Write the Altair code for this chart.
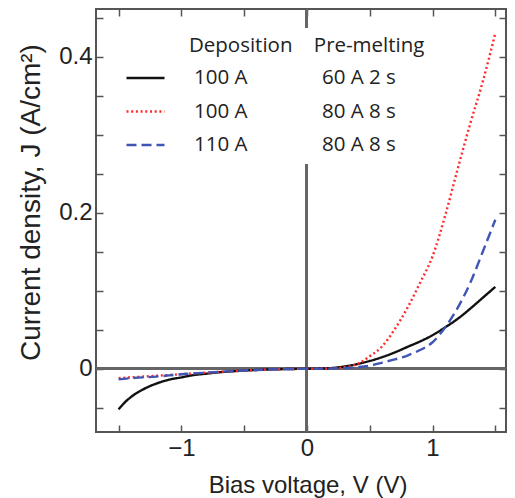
import altair as alt
import pandas as pd

# ---- data ----
series_names = ["100 A / 60 A 2 s", "100 A / 80 A 8 s", "110 A / 80 A 8 s"]
series_colors = ["#111111", "#ff2a2a", "#3f55b5"]
series_dashes = [[1, 0], [2, 2.7], [10, 5]]

v_black = [-1.5, -1.45, -1.4, -1.3, -1.2, -1.1, -1.0, -0.9, -0.8, -0.7, -0.6, -0.5, -0.4, -0.3, -0.2, -0.1,
           0.0, 0.1, 0.2, 0.3, 0.4, 0.5, 0.6, 0.7, 0.8, 0.9, 1.0, 1.1, 1.2, 1.3, 1.4, 1.5]
j_black = [-0.052, -0.043, -0.036, -0.026, -0.019, -0.014, -0.011, -0.008, -0.0062, -0.0045, -0.0033, -0.0023,
           -0.0015, -0.0009, -0.0005, -0.0002,
           0.0, 0.0003, 0.001, 0.003, 0.006, 0.010, 0.015, 0.021, 0.028, 0.035, 0.043, 0.053, 0.064, 0.077,
           0.091, 0.105]

v_red = [-1.5, -1.4, -1.2, -1.0, -0.8, -0.6, -0.4, -0.2, 0.0, 0.1, 0.2, 0.3, 0.4, 0.5, 0.6, 0.7, 0.8, 0.9,
         1.0, 1.1, 1.2, 1.3, 1.4, 1.5]
j_red = [-0.012, -0.011, -0.009, -0.007, -0.005, -0.003, -0.0015, -0.0005, 0.0, 0.0002, 0.0006, 0.002, 0.006,
         0.016, 0.029, 0.051, 0.078, 0.110, 0.144, 0.196, 0.256, 0.314, 0.368, 0.43]

v_blue = [-1.5, -1.4, -1.2, -1.0, -0.8, -0.6, -0.4, -0.2, 0.0, 0.2, 0.4, 0.5, 0.6, 0.7, 0.8, 0.9, 1.0, 1.1,
          1.2, 1.3, 1.4, 1.5]
j_blue = [-0.0135, -0.012, -0.010, -0.007, -0.005, -0.003, -0.0015, -0.0005, 0.0, 0.0003, 0.002, 0.004,
          0.008, 0.012, 0.017, 0.024, 0.034, 0.053, 0.078, 0.110, 0.150, 0.191]

x_ticks = [-1.5, -1.0, -0.5, 0.0, 0.5, 1.0, 1.5]
x_labels = [-1, 0, 1]
y_ticks = [-0.05, 0.0, 0.05, 0.1, 0.15, 0.2, 0.25, 0.3, 0.35, 0.4, 0.45]
y_labels = [0, 0.2, 0.4]

x_domain = [-1.68, 1.585]
y_domain = [-0.081, 0.461]

rows = []
for name, vs, js in zip(series_names, [v_black, v_red, v_blue], [j_black, j_red, j_blue]):
    for v, j in zip(vs, js):
        rows.append({"series": name, "V": v, "J": j})
df = pd.DataFrame(rows)

W, H = 410, 423
NB = "\u00a0"
ZW = "\u200b"
AX_FONT = "Liberation Sans"
LG_FONT = "Open Sans"
TXT = "#222222"
TICK = "#555555"

xs = alt.Scale(domain=x_domain, nice=False, zero=False)
ys = alt.Scale(domain=y_domain, nice=False, zero=False)

legend = alt.Legend(
    orient="none", legendX=21, legendY=19,
    title=ZW + NB * 12 + "Deposition" + NB * 4 + "Pre-melting",
    titleFont=LG_FONT, titleFontSize=20.5, titleFontWeight="normal", titleColor=TXT, titleLimit=600,
    titlePadding=1,
    labelFont=LG_FONT, labelFontSize=20.5, labelColor=TXT, labelLimit=600, labelOffset=28,
    labelExpr="replace(datum.label, ' / ', '" + NB * 14 + "')",
    symbolType="stroke", symbolSize=1444, symbolStrokeWidth=2.5,
    fillColor="white", padding=8, rowPadding=2.5,
)

# zero lines
zero_h = alt.Chart(df).mark_rule(color="#666666", strokeWidth=2).encode(
    y=alt.YDatum(0, scale=ys, axis=None))
zero_v = alt.Chart(df).mark_rule(color="#666666", strokeWidth=2).encode(
    x=alt.XDatum(0, scale=xs, axis=None))

# curves with labelled axes
lines = alt.Chart(df).mark_line(strokeWidth=2.4, interpolate="monotone").encode(
    x=alt.X("V:Q", scale=xs, axis=alt.Axis(
        orient="bottom", values=x_labels, format="~g", ticks=False, tickSize=0, domain=False, grid=False,
        labelFont=AX_FONT, labelFontSize=24, labelColor=TXT, labelPadding=4,
        title="Bias voltage, V (V)", titleFont=AX_FONT, titleFontSize=24, titleFontWeight="normal",
        titleColor=TXT, titleX=211.5, titleY=60, titleAlign="center", titleBaseline="alphabetic")),
    y=alt.Y("J:Q", scale=ys, axis=alt.Axis(
        orient="left", values=y_labels, format="~g", ticks=False, tickSize=0, domain=False, grid=False,
        labelFont=AX_FONT, labelFontSize=24, labelColor=TXT, labelPadding=4,
        title="Current density, J (A/cm²)", titleFont=AX_FONT, titleFontSize=28, titleFontWeight="normal",
        titleColor=TXT, titleX=-65, titleY=193, titleAngle=270, titleAlign="center",
        titleBaseline="middle")),
    color=alt.Color("series:N", scale=alt.Scale(domain=series_names, range=series_colors), legend=legend),
    strokeDash=alt.StrokeDash("series:N", scale=alt.Scale(domain=series_names, range=series_dashes),
                              legend=legend),
    detail="series:N",
)

tick_common = dict(labels=False, domain=False, grid=False, ticks=True, tickSize=7, tickColor=TICK,
                   tickWidth=1.5, title=None)

# inward ticks at bottom and left edges
ticks_bl = alt.Chart(df).mark_line(strokeOpacity=0).encode(
    x=alt.X("V:Q", scale=xs, axis=alt.Axis(orient="top", offset=-H, values=x_ticks, **tick_common)),
    y=alt.Y("J:Q", scale=ys, axis=alt.Axis(orient="right", offset=-W, values=y_ticks, **tick_common)),
    detail="series:N",
)
# inward ticks at top and right edges
ticks_tr = alt.Chart(df).mark_line(strokeOpacity=0).encode(
    x=alt.X("V:Q", scale=xs, axis=alt.Axis(orient="bottom", offset=-H, values=x_ticks, **tick_common)),
    y=alt.Y("J:Q", scale=ys, axis=alt.Axis(orient="left", offset=-W, values=y_ticks, **tick_common)),
    detail="series:N",
)

chart = alt.layer(zero_h, zero_v, ticks_bl, ticks_tr, lines).resolve_axis(
    x="independent", y="independent"
).properties(
    width=W, height=H,
    autosize=alt.AutoSizeParams(type="none"),
    padding={"left": 88, "top": 1, "right": 1, "bottom": 68},
    background="white",
).configure_view(stroke="#555555", strokeWidth=2)

chart.save("out.html", embed_options={"renderer": "svg", "actions": False})
